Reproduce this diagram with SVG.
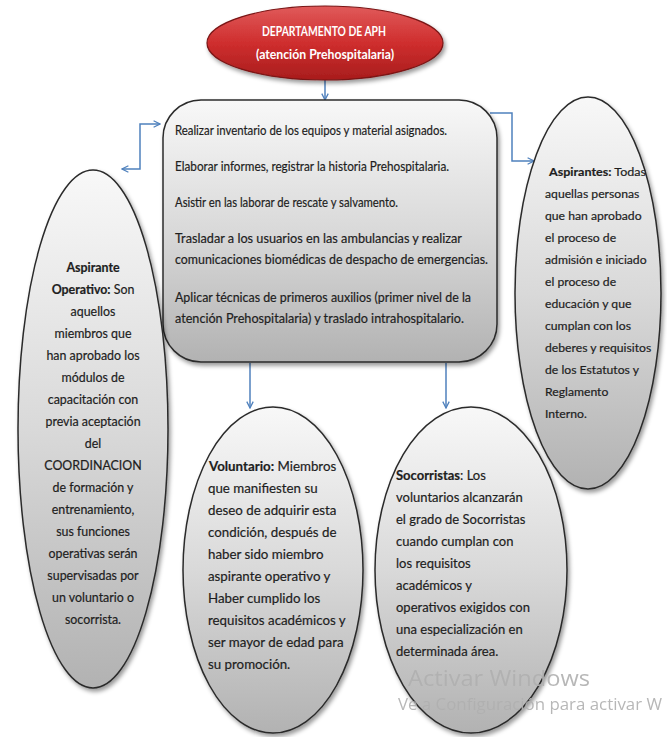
<svg xmlns="http://www.w3.org/2000/svg" width="667" height="737" viewBox="0 0 667 737">
<defs>
<style>
.t{font-family:Lato,"Liberation Sans",sans-serif;font-size:13px;fill:#1e1e1e;stroke:#1e1e1e;stroke-width:0.2}
.b{font-weight:bold}
.bx{font-family:Lato,"Liberation Sans",sans-serif;font-size:12.8px;fill:#1e1e1e;stroke:#1e1e1e;stroke-width:0.2}
.hd{font-family:Lato,"Liberation Sans",sans-serif;font-size:12.5px;font-weight:bold;fill:#fff}
.node{stroke:#2b2b2b;stroke-width:1.5;fill:url(#gray)}
.conn{fill:none;stroke:#4f81bd;stroke-width:1.5}
.wm{font-family:"Open Sans","Liberation Sans",sans-serif;fill:#b0b0b0}
</style>
<linearGradient id="gray" x1="0" y1="0" x2="0" y2="1">
<stop offset="0" stop-color="#f8f8f8"/>
<stop offset="0.5" stop-color="#d9d9d9"/>
<stop offset="1" stop-color="#b2b2b2"/>
</linearGradient>
<linearGradient id="red" x1="0" y1="0" x2="0" y2="1">
<stop offset="0" stop-color="#e05a5a"/>
<stop offset="0.5" stop-color="#cf2e2e"/>
<stop offset="1" stop-color="#a81d1d"/>
</linearGradient>
<filter id="sh" x="-10%" y="-10%" width="125%" height="125%">
<feDropShadow dx="2" dy="3" stdDeviation="2" flood-color="#000" flood-opacity="0.4"/>
</filter>
<marker id="arr" viewBox="0 0 10 10" refX="9" refY="5" markerWidth="8" markerHeight="8" markerUnits="userSpaceOnUse" orient="auto-start-reverse">
<path d="M1,1 L9,5 L1,9" fill="none" stroke="#4f81bd" stroke-width="1.6"/>
</marker>
</defs>
<rect width="667" height="737" fill="#fff"/>

<g id="connectors">
<path class="conn" d="M325,80 L325,100" marker-end="url(#arr)"/>
<path class="conn" d="M160,124 L140,124 L140,169 L122,169" marker-start="url(#arr)" marker-end="url(#arr)"/>
<path class="conn" d="M490,113 L512,113 L512,161 L534,161" marker-end="url(#arr)"/>
<path class="conn" d="M250,363 L250,408" marker-end="url(#arr)"/>
<path class="conn" d="M446,363 L446,408" marker-end="url(#arr)"/>
</g>

<g id="departamento">
<ellipse cx="325" cy="43" rx="118" ry="37" fill="url(#red)" stroke="#7a1414" stroke-width="1.2" filter="url(#sh)"/>
<text class="hd" x="262" y="36" textLength="124" lengthAdjust="spacingAndGlyphs">DEPARTAMENTO DE APH</text>
<text class="hd" x="256" y="59" textLength="138" lengthAdjust="spacingAndGlyphs">(atención  Prehospitalaria)</text>
</g>

<g id="funciones">
<rect class="node" x="163" y="100" width="334" height="262" rx="38" filter="url(#sh)"/>
<text class="bx" x="175" y="135" textLength="272" lengthAdjust="spacingAndGlyphs">Realizar inventario de los equipos y material asignados.</text>
<text class="bx" x="175" y="171" textLength="274" lengthAdjust="spacingAndGlyphs">Elaborar informes, registrar la historia  Prehospitalaria.</text>
<text class="bx" x="175" y="207" textLength="223" lengthAdjust="spacingAndGlyphs">Asistir en las laborar de rescate y salvamento.</text>
<text class="bx" x="175" y="243" textLength="287" lengthAdjust="spacingAndGlyphs">Trasladar a los usuarios en las ambulancias y realizar</text>
<text class="bx" x="175" y="264" textLength="313" lengthAdjust="spacingAndGlyphs">comunicaciones  biomédicas  de despacho  de emergencias.</text>
<text class="bx" x="175" y="302" textLength="296" lengthAdjust="spacingAndGlyphs">Aplicar técnicas de primeros auxilios (primer nivel de la</text>
<text class="bx" x="175" y="323" textLength="289" lengthAdjust="spacingAndGlyphs">atención  Prehospitalaria) y traslado intrahospitalario.</text>
</g>

<g id="aspirante-operativo">
<ellipse class="node" cx="93" cy="429" rx="75" ry="259" filter="url(#sh)"/>
<g class="t" text-anchor="middle" style="font-size:12.4px">
<text x="93" y="272" class="b" style="font-size:12.4px">Aspirante</text>
<text x="93" y="294"><tspan class="b">Operativo:</tspan> Son</text>
<text x="93" y="316">aquellos</text>
<text x="93" y="338">miembros que</text>
<text x="93" y="360">han aprobado los</text>
<text x="93" y="382">módulos de</text>
<text x="93" y="404">capacitación  con</text>
<text x="93" y="426">previa aceptación</text>
<text x="93" y="448">del</text>
<text x="93" y="470">COORDINACION</text>
<text x="93" y="492">de formación y</text>
<text x="93" y="514">entrenamiento,</text>
<text x="93" y="536">sus funciones</text>
<text x="93" y="558">operativas serán</text>
<text x="93" y="580">supervisadas por</text>
<text x="93" y="602">un voluntario o</text>
<text x="93" y="624">socorrista.</text>
</g>
</g>

<g id="aspirantes">
<ellipse class="node" cx="588" cy="293" rx="73" ry="196" filter="url(#sh)"/>
<g class="t" style="font-size:12.2px">
<text x="549" y="176" textLength="97" lengthAdjust="spacingAndGlyphs"><tspan class="b">Aspirantes:</tspan> Todas</text>
<text x="545" y="198">aquellas  personas</text>
<text x="545" y="220">que han aprobado</text>
<text x="545" y="242">el proceso de</text>
<text x="545" y="264">admisión e iniciado</text>
<text x="545" y="286">el proceso de</text>
<text x="545" y="308">educación  y que</text>
<text x="545" y="330">cumplan  con los</text>
<text x="545" y="352">deberes y requisitos</text>
<text x="545" y="374">de los Estatutos  y</text>
<text x="545" y="396">Reglamento</text>
<text x="545" y="418">Interno.</text>
</g>
</g>

<g id="voluntario">
<ellipse class="node" cx="273" cy="570" rx="90" ry="163" filter="url(#sh)"/>
<g class="t" style="font-size:13.3px">
<text x="209" y="471"><tspan class="b">Voluntario:</tspan>  Miembros</text>
<text x="208" y="493">que manifiesten  su</text>
<text x="208" y="515">deseo de adquirir esta</text>
<text x="208" y="537">condición,  después de</text>
<text x="208" y="559">haber sido miembro</text>
<text x="208" y="581">aspirante operativo y</text>
<text x="208" y="603">Haber cumplido  los</text>
<text x="208" y="625">requisitos académicos y</text>
<text x="208" y="647">ser mayor de edad para</text>
<text x="208" y="669">su promoción.</text>
</g>
</g>

<g id="socorristas">
<ellipse class="node" cx="471" cy="570" rx="96" ry="163" filter="url(#sh)"/>
<g class="t">
<text x="396" y="480"><tspan class="b">Socorristas</tspan>: Los</text>
<text x="396" y="502">voluntarios alcanzarán</text>
<text x="396" y="524">el grado de Socorristas</text>
<text x="396" y="546">cuando cumplan con</text>
<text x="396" y="568">los requisitos</text>
<text x="396" y="590">académicos y</text>
<text x="396" y="612">operativos exigidos  con</text>
<text x="396" y="634">una especialización  en</text>
<text x="396" y="656">determinada área.</text>
</g>
</g>

<g id="watermark" opacity="0.9">
<text class="wm" x="408" y="686" font-size="22" textLength="182" lengthAdjust="spacingAndGlyphs">Activar Windows</text>
<text class="wm" x="398" y="710" font-size="16" textLength="264" lengthAdjust="spacingAndGlyphs">Ve a Configuración para activar W</text>
</g>
</svg>
